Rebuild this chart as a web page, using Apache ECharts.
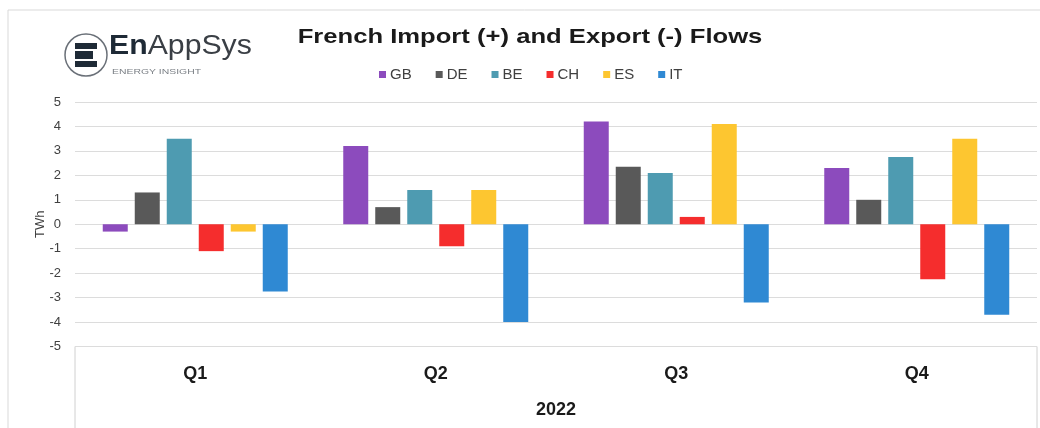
<!DOCTYPE html>
<html><head><meta charset="utf-8">
<script src="https://cdn.jsdelivr.net/npm/echarts@6/dist/echarts.min.js"></script>
<style>html,body{margin:0;padding:0;background:#fff}#c{width:1040px;height:428px}</style>
</head><body><div id="c"></div>
<script>
const categories = ['Q1', 'Q2', 'Q3', 'Q4'];
const seriesNames = ['GB', 'DE', 'BE', 'CH', 'ES', 'IT'];
const GB = [-0.3, 3.2, 4.2, 2.3];
const DE = [1.3, 0.7, 2.35, 1.0];
const BE = [3.5, 1.4, 2.1, 2.75];
const CH = [-1.1, -0.9, 0.3, -2.25];
const ES = [-0.3, 1.4, 4.1, 3.5];
const IT = [-2.75, -4.0, -3.2, -3.7];
const yTicks = [-5, -4, -3, -2, -1, 0, 1, 2, 3, 4, 5];
const colors = ['#8c4bbd', '#595959', '#4e9bb1', '#f52d2d', '#fdc630', '#2f89d3'];
const values = [GB, DE, BE, CH, ES, IT];

const chart = echarts.init(document.getElementById('c'), null, {renderer: 'canvas'});
const font = 'Liberation Sans, Arial, sans-serif';
chart.setOption({
  animation: false,
  color: colors,
  legend: {
    data: seriesNames, top: 62, left: 374,
    itemWidth: 7, itemHeight: 7, itemGap: 24, icon: 'rect',
    textStyle: {fontFamily: font, fontSize: 15, color: '#404040', padding: [0, 0, 0, -1]}
  },
  grid: {left: 75, right: 3, top: 102, bottom: 81.5, containLabel: false},
  xAxis: {
    type: 'category', data: categories, position: 'bottom',
    axisLine: {show: false}, axisTick: {show: false},
    axisLabel: {fontFamily: font, fontSize: 18, fontWeight: 'bold', color: '#1a1a1a', margin: 19},
    name: '2022', nameLocation: 'middle', nameGap: 55,
    nameTextStyle: {fontFamily: font, fontSize: 18, fontWeight: 'bold', color: '#1a1a1a'}
  },
  yAxis: {
    type: 'value', min: -5, max: 5, interval: 1,
    axisLine: {show: false}, axisTick: {show: false},
    axisLabel: {fontFamily: font, fontSize: 13, color: '#404040', margin: 14,
      formatter: v => yTicks.includes(v) ? String(v) : ''},
    splitLine: {lineStyle: {color: '#dcdcdc', width: 1}},
    name: 'TWh', nameLocation: 'middle', nameGap: 28, nameRotate: 90, nameMoveOverlap: false,
    nameTextStyle: {fontFamily: font, fontSize: 13, color: '#404040'}
  },
  series: seriesNames.map((n, i) => ({
    name: n, type: 'bar', data: values[i], barWidth: 25, barGap: '28%'
  })),
  graphic: [
    {type: 'rect', shape: {x: 8, y: 10, width: 1040, height: 440}, style: {fill: 'none', stroke: '#d9d9d9', lineWidth: 1}, silent: true, z: -1},
    {type: 'polyline', shape: {points: [[75, 428], [75, 346.5], [1037, 346.5], [1037, 428]]}, style: {fill: 'none', stroke: '#d0d0d0', lineWidth: 1}, silent: true},
    {type: 'text', x: 530, y: 27, scaleX: 1.22, style: {
      text: 'French Import (+) and Export (-) Flows', x: 0, y: 0, align: 'center', verticalAlign: 'top',
      fontFamily: font, fontSize: 21, fontWeight: 'bold', fill: '#1a1a1a'}},
    {type: 'circle', shape: {cx: 86, cy: 55, r: 21}, style: {fill: '#fff', stroke: '#6a7078', lineWidth: 1.5}},
    {type: 'rect', shape: {x: 75, y: 43, width: 22, height: 6}, style: {fill: '#1e2a36'}},
    {type: 'rect', shape: {x: 75, y: 51, width: 18, height: 8}, style: {fill: '#1e2a36'}},
    {type: 'rect', shape: {x: 75, y: 61, width: 22, height: 6}, style: {fill: '#1e2a36'}},
    {type: 'text', x: 109, y: 33, scaleX: 1.12, style: {text: '{b|En}{r|AppSys}', x: 0, y: 0, rich: {
      b: {fontFamily: font, fontSize: 27, fontWeight: 'bold', fill: '#1e2a36'},
      r: {fontFamily: font, fontSize: 27, fill: '#3a3f45'}}}},
    {type: 'text', x: 112, y: 68, scaleX: 1.3, style: {text: 'ENERGY INSIGHT', x: 0, y: 0, fontFamily: font, fontSize: 8, fill: '#7a7f85'}}
  ]
});
</script></body></html>
